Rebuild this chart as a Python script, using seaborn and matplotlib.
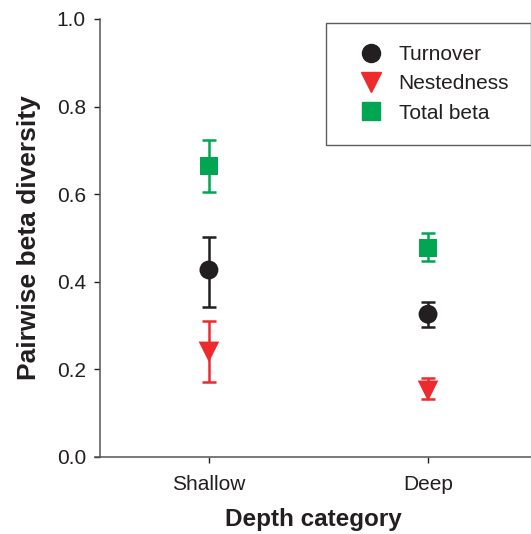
import matplotlib
matplotlib.use("Agg")
import matplotlib.pyplot as plt
import seaborn as sns
import pandas as pd
import numpy as np

categories = ["Shallow", "Deep"]
series = ["Turnover", "Nestedness", "Total beta"]
turnover = [0.427, 0.326]
turnover_lo = [0.342, 0.297]
turnover_hi = [0.502, 0.354]
nestedness = [0.240, 0.151]
nestedness_lo = [0.171, 0.132]
nestedness_hi = [0.310, 0.180]
total_beta = [0.664, 0.477]
total_lo = [0.605, 0.447]
total_hi = [0.724, 0.511]

rows = []
for name, vals, lo, hi in [("Turnover", turnover, turnover_lo, turnover_hi),
                           ("Nestedness", nestedness, nestedness_lo, nestedness_hi),
                           ("Total beta", total_beta, total_lo, total_hi)]:
    for c, v, l, h in zip(categories, vals, lo, hi):
        rows.append({"Depth": c, "Series": name, "value": v, "lo": l, "hi": h})
df = pd.DataFrame(rows)
df["x"] = df["Depth"].map({c: i for i, c in enumerate(categories)})

sns.set_style("ticks")
plt.rcParams["font.family"] = ["Liberation Sans", "DejaVu Sans"]

colors = {"Turnover": "#231f20", "Nestedness": "#ed2a2e", "Total beta": "#00a651"}
markers = {"Turnover": "o", "Nestedness": "v", "Total beta": "s"}
sizes = {"Turnover": 185, "Nestedness": 220, "Total beta": 165}

fig = plt.figure(figsize=(5.31, 5.34), dpi=100)
ax = fig.add_axes([95/531, 1-457/534, 436/531, 438/534])

for s in series:
    d = df[df["Series"] == s]
    ax.errorbar(d["x"], d["value"], yerr=[d["value"]-d["lo"], d["hi"]-d["value"]],
                fmt="none", ecolor=colors[s], elinewidth=1.8, capsize=5, capthick=1.8, zorder=2)
    sns.scatterplot(data=d, x="x", y="value", ax=ax, color=colors[s], marker=markers[s],
                    s=sizes[s], edgecolor="none", label=s, zorder=3, legend=False)

ax.set_xlim(-0.52, 1.47)
ax.set_ylim(0, 1.0)
ax.set_xticks([0, 1])
ax.set_xticklabels(categories)
ax.set_yticks(np.arange(0, 1.01, 0.2))
ax.set_yticklabels([f"{v:.1f}" for v in np.arange(0, 1.01, 0.2)])
ax.tick_params(labelsize=15, colors="#231f20", length=4, width=1.0, pad=6)
ax.tick_params(axis="x", pad=9)
for sp in ["top", "right"]:
    ax.spines[sp].set_visible(False)
for sp in ["left", "bottom"]:
    ax.spines[sp].set_color("#555555")
    ax.spines[sp].set_linewidth(1.1)
ax.spines["left"].set_position(("data", -0.498))
ax.set_xlabel("Depth category", fontsize=17.5, fontweight="bold", color="#231f20", labelpad=10)
ax.set_ylabel("Pairwise beta diversity", fontsize=19, fontweight="bold", color="#231f20", labelpad=11)

from matplotlib.lines import Line2D
handles = [Line2D([], [], linestyle="none", marker=markers[s], color=colors[s],
                  markersize=13 if s != "Nestedness" else 14) for s in series]
leg = ax.legend(handles, series, loc="upper right", bbox_to_anchor=(1.0, 0.99), fontsize=15,
                frameon=True, fancybox=False, edgecolor="#333333", borderpad=1.05,
                handletextpad=0.25, labelspacing=0.49, borderaxespad=0.0, handlelength=2.2)
leg.get_frame().set_linewidth(1.0)
for t in leg.get_texts():
    t.set_color("#231f20")

fig.savefig("out.png", dpi=100)
